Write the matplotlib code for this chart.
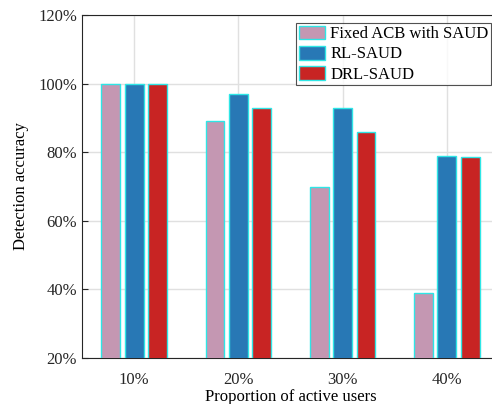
import numpy as np
import matplotlib.pyplot as plt
from matplotlib.ticker import FuncFormatter

plt.rcParams['font.family'] = ['Liberation Serif', 'DejaVu Serif']
plt.rcParams['mathtext.fontset'] = 'stix'

# data
groups = ['10%', '20%', '30%', '40%']
series = ['Fixed ACB with SAUD', 'RL-SAUD', 'DRL-SAUD']
fixed_acb = [100, 89, 70, 39]
rl_saud = [100, 97, 93, 79]
drl_saud = [100, 93, 86, 78.5]
colors = ['#C497B2', '#2878B5', '#C82423']

fig = plt.figure(figsize=(4.92, 4.04), dpi=100)
ax = fig.add_axes([82/492, 46/404, 417/492, 343/404])

x = np.arange(1, len(groups) + 1)
width = 0.18
offsets = [-0.225, 0, 0.225]
for vals, name, c, off in zip([fixed_acb, rl_saud, drl_saud], series, colors, offsets):
    ax.bar(x + off, vals, width, color=c, edgecolor='#2EE6E6', linewidth=1.0,
           label=name, zorder=3)

ax.set_xlim(0.5, 4.5)
ax.set_ylim(20, 120)
ax.set_xticks(x)
ax.set_xticklabels(groups)
ax.set_yticks(np.arange(20, 121, 20))
ax.yaxis.set_major_formatter(FuncFormatter(lambda v, p: '%d%%' % v))

ax.grid(True, color='#e0e0e0', linewidth=1.0, zorder=0)
ax.set_axisbelow(True)
ax.tick_params(direction='in', length=4, width=0.8, labelsize=12, colors='#262626',
               top=False, right=False)
ax.tick_params(axis='x', pad=10)
for s in ax.spines.values():
    s.set_color('#262626')
    s.set_linewidth(0.8)

ax.set_xlabel('Proportion of active users', fontsize=12, labelpad=1)
ax.set_ylabel('Detection accuracy', fontsize=12, labelpad=7)

leg = fig.legend(loc='upper right', bbox_to_anchor=(491/492, 1 - 23/404),
                 fontsize=12, frameon=True, fancybox=False, borderaxespad=0,
                 handlelength=1.6, handleheight=0.9, handletextpad=0.3,
                 labelspacing=0.22, borderpad=0.15)
leg.get_frame().set_edgecolor('#262626')
leg.get_frame().set_linewidth(0.8)

fig.savefig('out.png', dpi=100)
